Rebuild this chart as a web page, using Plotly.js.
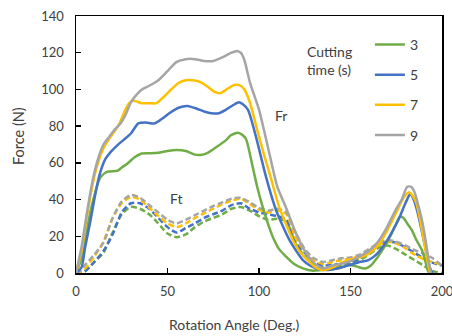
<!DOCTYPE html>
<html>
<head>
<meta charset="utf-8">
<script src="https://cdn.plot.ly/plotly-3.0.1.min.js"></script>
<style>html,body{margin:0;padding:0;background:#fff;}</style>
</head>
<body>
<div id="chart" style="width:452px;height:336px;"></div>
<script>
// ---- Fr (solid) data ----
const angle3 = [0,3,6,8,9.9,12,13.6,17.2,22.7,25,28.2,32,35.5,40,45,50,55,60,65,68,72,77,82,84.6,88.3,90.5,92.9,96.5,99,102,104.5,107.5,111,114.8,119,124,129.5,134,140,145,148.7,152,155,158,161,165,169,172.5,175,177,179,181,183.5,186,189,191,192,193];
const fr3 = [0,8,24,34,41.6,49,52.5,55.2,55.7,57.5,59.7,63,65,65.2,65.5,66.5,67,66.5,64.5,64.3,65.5,68.8,72.4,75,76.4,75.5,73,58,47,36,28,19.8,13,8.9,5,2.5,1.2,1.6,2,3,4.4,4,3,2.5,4,8.9,15,21.6,27,30.7,30,27,23.4,18,12.5,6,2,0];

const angle5 = [0,3,5,8,10,12.6,16,19,22.7,26,30,34,38,43,47,51,56,61,66,70,74,78,82,86,89,91,94,98.4,103.8,109.3,116.6,124,128,133,137.7,145,150,155,159.7,165,169,172.5,176.2,180,182.6,184.5,186.3,188.5,190.8,192.5,194,195];
const fr5 = [0,3,14,29,40,52.5,62,66,69.7,72.5,76,81.5,82,81.5,84,87,90,91,89.5,88,87,87,89,91.5,93,92,88.8,74,52.5,34.3,18,7,4,2,1.6,3,4.5,6,7,11,16.2,22,29,38,43,40,34.3,25,14.3,6,1.5,0];

const angle7 = [0,3,6,9,12,15,18,21,24,27,29,31,33,36,40,44,48,52,56,60,64,68,72,76,79,83,87,90,92,95,99,103,106,111,115,118.5,122,127.6,131,135,140,145,150,155,158,162,165,170,175,179,182,184,186,188,190,192,193.5];
const fr7 = [0,12,31,48,60,68,73,77,82,89,92.5,94,93.5,92.5,92.5,92.5,96,100,103.5,105,105,104,101.5,98.5,98,100.5,102.5,102,100,93,78,63.5,53.5,36,26,18,12,6,3,1.6,3,5.5,7.5,8.5,9.5,12,15,23,33,41,44,42,38,29,18,7,0];

const angle9 = [0,3,6,9,12,15,18,21,24,27,30,33,36,40,45,50,55,60,65,70,75,80,85,88,90,92,95,100,105,110,115,120,125,130,135,140,145,150,155,160,165,170,175,178,181,183,185,187,189,191,193,194];
const fr9 = [0,14,33,50,62,70,74,78,81,86,93,97,100,102,105,110,115,116.5,116.5,115.5,115.5,117.5,120,121,120,116,104,89,68,47,35,22,12,5.5,2.5,4,5,6.5,9,12,17,25,35,40,47,47,44,37,29,18,5,0];

// ---- Ft (dashed) data ----
const angleFt = [0,2,5,10,15,20,25,30,35,40,45,50,55,60,65,70,75,80,85,90,95,100,105,110,115,120,125,130,135,140,145,150,155,160,165,170,175,180,185,190,195,200];
const ft3 = [0,0,1,6,11,22,32,36,35,32,27,21.5,19.5,21,25,28,30,32,35,36,34,31,29,29.5,28,16,9,5,3,3,4,5,7,10,13.5,15,13,10,7,4,1,0];
const ft5 = [0,0,1,6,12,21,33,38,38,35,30,25,22,24.5,27,30,32,34,37,38,35,33,32,31,29,17,11,6,4,4.5,5,6,8,11,15,17,16.5,14,11,8,5.5,4];
const ft7 = [0,0.5,2.5,9,17,30,38,41.5,40,35.5,31,27,25,27,30,32.5,35,37.5,39.5,40.5,37.5,34.5,33,34,32,19,12,7,5,6,7,8,9,12,15,17,16,13.5,10,7.5,6,4.5];
const ft9 = [0,1,4.5,10,16.5,30,39,42.5,41,37,33,29,27,29,31.5,34,36.5,38.5,40.5,41,38.5,35.5,34,35,33,22,13,8,6,7,8,8.5,10,13,16,18,17,15,12.5,10.5,8,4];

const legendNames = ['3','5','7','9'];
const colors = ['#70AD47','#4472C4','#FFC000','#A5A5A5'];

const frAngles = [angle3, angle5, angle7, angle9];
const frVals = [fr3, fr5, fr7, fr9];
const ftVals = [ft3, ft5, ft7, ft9];

const traces = [];
for (let i = 0; i < 4; i++) {
  traces.push({
    x: angleFt, y: ftVals[i], type: 'scatter', mode: 'lines',
    line: {color: colors[i], width: 2.5, dash: '6px,3px', shape: 'spline', smoothing: 0.6},
    showlegend: false, hoverinfo: 'skip'
  });
}
for (let i = 0; i < 4; i++) {
  traces.push({
    x: frAngles[i], y: frVals[i], type: 'scatter', mode: 'lines',
    name: legendNames[i], legendgroup: 'g' + i,
    line: {color: colors[i], width: 2.5, shape: 'spline', smoothing: 0.6}
  });
}

const txt = '#404040';
const layout = {
  width: 452, height: 336,
  margin: {l: 76, r: 10, t: 16, b: 63, pad: 0},
  paper_bgcolor: '#ffffff', plot_bgcolor: '#ffffff',
  font: {family: 'Lato, "Open Sans", sans-serif', size: 13, color: txt},
  showlegend: true,
  legend: {
    x: 0.803, xanchor: 'left', y: 0.95, yanchor: 'top',
    bgcolor: 'rgba(0,0,0,0)', borderwidth: 0,
    font: {size: 14, color: txt},
    traceorder: 'grouped', tracegroupgap: 9, itemwidth: 30
  },
  xaxis: {
    range: [0, 200], tick0: 0, dtick: 50, ticks: 'inside', ticklen: 5, tickwidth: 1.5, tickcolor: '#000',
    showline: true, linecolor: '#000', linewidth: 1.5, mirror: true,
    showgrid: false, zeroline: false, tickfont: {size: 13, color: txt}, ticklabelstandoff: 6,
    ticklabeloverflow: 'allow'
  },
  yaxis: {
    range: [0, 140], tick0: 0, dtick: 20, ticks: 'inside', ticklen: 5, tickwidth: 1.5, tickcolor: '#000',
    showline: true, linecolor: '#000', linewidth: 1.5, mirror: true,
    showgrid: false, zeroline: false, tickfont: {size: 13, color: txt}, ticklabelstandoff: 8,
    ticklabeloverflow: 'allow'
  },
  annotations: [
    {text: 'Cutting<br>time (s)', xref: 'x', yref: 'y', x: 125.3, y: 126.5, xanchor: 'left', yanchor: 'top', align: 'left', showarrow: false, font: {size: 14, color: txt}},
    {text: 'Fr', xref: 'x', yref: 'y', x: 112, y: 86, showarrow: false, font: {size: 14, color: txt}},
    {text: 'Ft', xref: 'x', yref: 'y', x: 55, y: 40.5, showarrow: false, font: {size: 14, color: txt}},
    {text: 'Rotation Angle (Deg.)', xref: 'paper', yref: 'paper', x: 0.4317, y: -0.202, xanchor: 'center', yanchor: 'middle', showarrow: false, font: {size: 14, color: txt}},
    {text: 'Force (N)', xref: 'paper', yref: 'paper', x: -0.1585, y: 0.533, xanchor: 'center', yanchor: 'middle', textangle: -90, showarrow: false, font: {size: 14.5, color: txt}}
  ]
};

Plotly.newPlot('chart', traces, layout, {staticPlot: true, displayModeBar: false});
</script>
</body>
</html>
